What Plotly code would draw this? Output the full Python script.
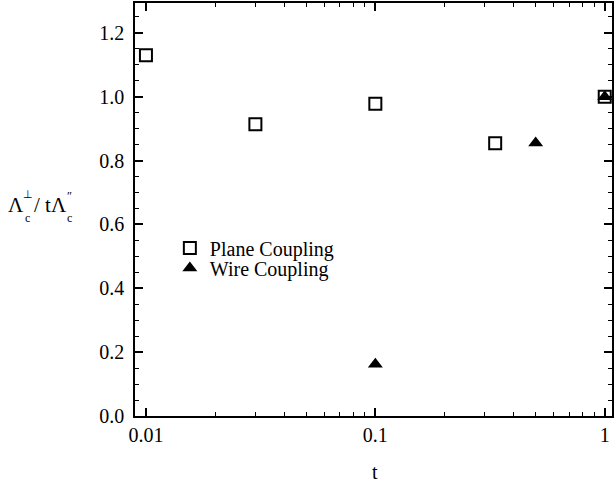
import plotly.graph_objects as go

# Data
plane_t = [0.01, 0.03, 0.1, 0.333, 1.0]
plane_ratio = [1.13, 0.914, 0.978, 0.854, 1.0]
wire_t = [0.1, 0.5, 1.0]
wire_ratio = [0.162, 0.855, 1.0]

x_tickvals = [0.01, 0.1, 1]
x_ticktext = ["0.01", "0.1", "1"]
y_tickvals = [0.0, 0.2, 0.4, 0.6, 0.8, 1.0, 1.2]

FONT = "Liberation Serif"
W, H = 615, 489
L, R, T, B = 135, 1, 3, 73

x_minor = [m * 10 ** e for e in (-3, -2, -1, 0) for m in range(2, 10)]

fig = go.Figure()
fig.add_trace(go.Scatter(
    x=plane_t, y=plane_ratio, mode="markers", name="Plane Coupling",
    marker=dict(symbol="square-open", size=12, color="black",
                line=dict(width=2, color="black")),
    legend="legend",
))
fig.add_trace(go.Scatter(
    x=wire_t, y=wire_ratio, mode="markers", name="Wire Coupling",
    marker=dict(symbol="triangle-up", size=13, color="black",
                line=dict(width=0)),
    legend="legend2",
))

pw = W - L - R
ph = H - T - B


def px2paper(px, py):
    return (px - L) / pw, (H - B - py) / ph


annos = [
    ("Λ", 16, 205, 21),
    ("⊥", 28, 194, 11),
    ("c", 27, 218, 12),
    ("/ tΛ", 50, 205, 21),
    ("″", 69, 196, 12),
    ("c", 69, 218, 12),
    ("t", 376, 472, 20),
]
for txt, ax_, ay_, fs in annos:
    xp, yp = px2paper(ax_, ay_)
    fig.add_annotation(
        text=txt, x=xp, y=yp, xref="paper", yref="paper",
        showarrow=False, xanchor="center", yanchor="middle",
        font=dict(family=FONT, size=fs, color="black"),
    )

lx1, ly1 = px2paper(170, 248)
lx2, ly2 = px2paper(170, 268)
leg_common = dict(xanchor="left", yanchor="middle",
                  bgcolor="rgba(0,0,0,0)", font=dict(family=FONT, size=20),
                  itemwidth=30)

fig.update_layout(
    width=W, height=H,
    margin=dict(l=L, r=R, t=T, b=B, pad=0),
    paper_bgcolor="white", plot_bgcolor="white",
    font=dict(family=FONT, size=20, color="black"),
    showlegend=True,
    legend=dict(x=lx1, y=ly1, **leg_common),
    legend2=dict(x=lx2, y=ly2, **leg_common),
    xaxis=dict(
        type="log", range=[-2.0477, 0.0317],
        tickmode="array", tickvals=x_tickvals, ticktext=x_ticktext,
        ticks="inside", ticklen=8, tickwidth=1.5, tickcolor="black",
        minor=dict(tickmode="array", tickvals=x_minor, ticks="inside",
                   ticklen=4, tickwidth=1, tickcolor="black", showgrid=False),
        showline=True, linecolor="black", linewidth=1.5, mirror="ticks",
        showgrid=False, zeroline=False,
        tickfont=dict(family=FONT, size=20, color="black"),
    ),
    yaxis=dict(
        range=[0, 1.2937],
        tickmode="array", tickvals=y_tickvals, tickformat=".1f",
        ticks="inside", ticklen=8, tickwidth=1.5, tickcolor="black",
        minor=dict(dtick=0.05, ticks="inside", ticklen=4, tickwidth=1,
                   tickcolor="black", showgrid=False),
        showline=True, linecolor="black", linewidth=1.5, mirror="ticks",
        showgrid=False, zeroline=False, ticklabelstandoff=5,
        tickfont=dict(family=FONT, size=20, color="black"),
    ),
)

fig.write_html("out.html")
